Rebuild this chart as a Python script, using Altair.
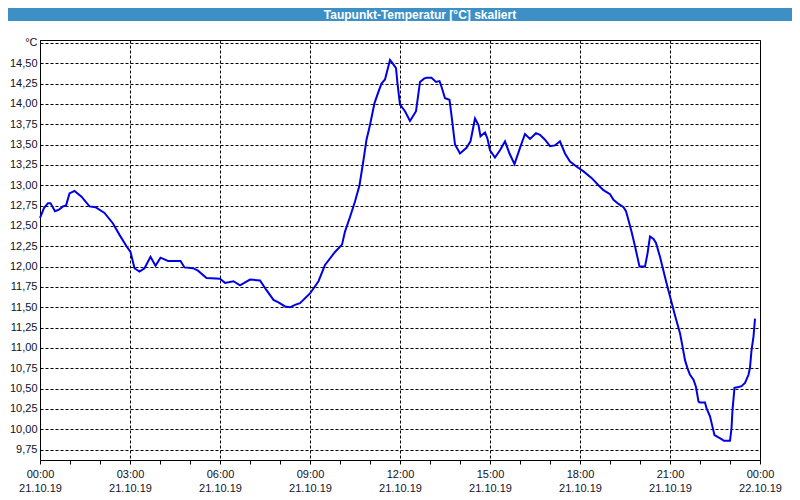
import altair as alt
import pandas as pd

TITLE = "Taupunkt-Temperatur [°C] skaliert"
UNIT_LABEL = "°C"
DATE_DAY1 = "21.10.19"
DATE_DAY2 = "22.10.19"

# minutes since 21.10.19 00:00
MINUTES = [0, 8, 16, 21, 30, 38, 46, 52, 59, 69, 83, 99, 111, 129, 146, 159, 173, 181,
           189, 199, 209, 221, 231, 241, 256, 281, 289, 306, 316, 333, 360, 370, 387,
           400, 420, 440, 453, 467, 477, 490, 500, 510, 520, 540, 557, 570, 590, 604,
           610, 620, 630, 639, 647, 653, 660, 669, 677, 683, 690, 700, 705, 712, 715,
           720, 730, 740, 752, 760, 768, 773, 783, 792, 799, 803, 810, 819, 823, 830,
           840, 853, 861, 870, 877, 881, 890, 895, 900, 910, 920, 930, 939, 949, 960,
           970, 980, 992, 1000, 1010, 1020, 1030, 1040, 1050, 1060, 1073, 1087, 1103,
           1117, 1127, 1140, 1147, 1157, 1167, 1172, 1177, 1183, 1190, 1199, 1210,
           1215, 1220, 1227, 1232, 1240, 1248, 1255, 1261, 1270, 1280, 1285, 1290,
           1295, 1300, 1307, 1312, 1317, 1320, 1330, 1333, 1340, 1345, 1349, 1357,
           1363, 1368, 1380, 1383, 1385, 1389, 1397, 1403, 1410, 1417, 1420, 1423,
           1427, 1430]

TEMPS = [12.60, 12.72, 12.78, 12.78, 12.68, 12.70, 12.74, 12.75, 12.90, 12.93, 12.86,
         12.74, 12.73, 12.66, 12.53, 12.39, 12.25, 12.18, 11.98, 11.94, 11.98, 12.12,
         12.01, 12.11, 12.07, 12.07, 11.99, 11.98, 11.95, 11.86, 11.85, 11.80, 11.82,
         11.77, 11.84, 11.83, 11.71, 11.59, 11.56, 11.51, 11.50, 11.53, 11.55, 11.67,
         11.82, 12.02, 12.18, 12.27, 12.43, 12.61, 12.80, 13.00, 13.31, 13.56, 13.74,
         14.01, 14.15, 14.25, 14.30, 14.54, 14.50, 14.44, 14.25, 13.99, 13.91, 13.79,
         13.91, 14.27, 14.31, 14.32, 14.32, 14.27, 14.28, 14.21, 14.07, 14.05, 13.86,
         13.50, 13.39, 13.46, 13.54, 13.82, 13.74, 13.60, 13.65, 13.57, 13.43, 13.34,
         13.43, 13.54, 13.39, 13.26, 13.46, 13.63, 13.57, 13.64, 13.62, 13.56, 13.48,
         13.49, 13.54, 13.39, 13.29, 13.23, 13.17, 13.09, 13.00, 12.94, 12.89, 12.82,
         12.77, 12.73, 12.68, 12.57, 12.43, 12.25, 12.00, 12.00, 12.16, 12.37, 12.34,
         12.29, 12.12, 11.92, 11.75, 11.61, 11.40, 11.18, 11.02, 10.85, 10.75, 10.67,
         10.61, 10.52, 10.34, 10.33, 10.33, 10.26, 10.16, 10.03, 9.93, 9.90, 9.88,
         9.86, 9.86, 10.01, 10.24, 10.51, 10.52, 10.53, 10.57, 10.67, 10.76, 10.97,
         11.14, 11.36]

X_TICKS = [0, 1, 2, 3, 4, 5, 6, 7, 8, 9, 10, 11, 12, 13, 14, 15, 16, 17, 18, 19, 20,
           21, 22, 23, 24]
Y_TICKS = [9.75, 10.0, 10.25, 10.5, 10.75, 11.0, 11.25, 11.5, 11.75, 12.0, 12.25,
           12.5, 12.75, 13.0, 13.25, 13.5, 13.75, 14.0, 14.25, 14.5, 14.75]
Y_DOMAIN = [9.623, 14.785]

df = pd.DataFrame({"hour": [m / 60 for m in MINUTES], "temp": TEMPS})

LABEL_FONT = "Liberation Sans"
LABEL_COLOR = "#10102a"

x_label_expr = (
    "datum.value % 3 == 0 ? [format(datum.value % 24, '02d') + ':00', "
    f"datum.value < 24 ? '{DATE_DAY1}' : '{DATE_DAY2}'] : ''"
)
y_label_expr = (
    f"datum.value > 14.7 ? '{UNIT_LABEL}' : replace(format(datum.value, '.2f'), '.', ',')"
)

line = alt.Chart(df).mark_line(color="#0000e6", strokeWidth=2).encode(
    x=alt.X(
        "hour:Q",
        scale=alt.Scale(domain=[0, 24], nice=False, zero=False),
        axis=alt.Axis(
            values=X_TICKS,
            title=None,
            grid=True,
            gridColor="black",
            gridDash=[3, 2],
            gridWidth=1,
            gridOpacity={"condition": {"test": "datum.value % 3 == 0", "value": 1}, "value": 0},
            labelExpr=x_label_expr,
            labelFlush=False,
            labelOverlap=False,
            labelBound=False,
            labelFont=LABEL_FONT,
            labelFontSize=11,
            labelColor=LABEL_COLOR,
            labelPadding=4,
            labelLineHeight=14,
            tickSize=4,
            tickColor="black",
            domainColor="black",
        ),
    ),
    y=alt.Y(
        "temp:Q",
        scale=alt.Scale(domain=Y_DOMAIN, nice=False, zero=False),
        axis=alt.Axis(
            values=Y_TICKS,
            title=None,
            grid=True,
            gridColor="black",
            gridDash=[3, 2],
            gridWidth=1,
            labelExpr=y_label_expr,
            labelFont=LABEL_FONT,
            labelFontSize=11,
            labelColor=LABEL_COLOR,
            labelPadding=3,
            labelOverlap=False,
            ticks=False,
            domainColor="black",
        ),
    ),
)

title_df = pd.DataFrame({"title": [TITLE]})
title_bar = alt.Chart(title_df).mark_rect(color="#3d90c6").encode(
    x=alt.value(-32), x2=alt.value(752), y=alt.value(-32), y2=alt.value(-19)
)
title_text = alt.Chart(title_df).mark_text(
    color="white", font=LABEL_FONT, fontSize=12, fontWeight="bold",
    align="center", baseline="middle"
).encode(text="title:N", x=alt.value(380), y=alt.value(-25.5))

chart = alt.layer(title_bar, title_text, line).properties(
    width=720,
    height=420,
    autosize="none",
    padding={"left": 32, "top": 32, "right": 32, "bottom": 32},
    background="white",
).configure_view(stroke="black", strokeWidth=1)

chart.save("out.html", embed_options={"renderer": "svg", "actions": False})
